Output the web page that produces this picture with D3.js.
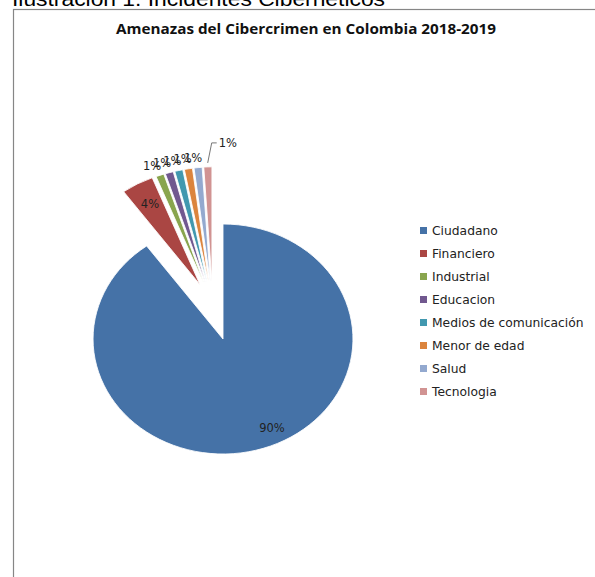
<!DOCTYPE html>
<html>
<head>
<meta charset="utf-8">
<script src="https://cdn.jsdelivr.net/npm/d3@7"></script>
<style>
  body { margin: 0; background: #fff; }
  svg { display: block; }
</style>
</head>
<body>
<div id="chart"></div>
<script>
// datos
const categorias = ['Ciudadano', 'Financiero', 'Industrial', 'Educacion', 'Medios de comunicación', 'Menor de edad', 'Salud', 'Tecnologia'];
const valores = [90, 4, 1, 1, 1, 1, 1, 1];
const colores = ['#4572A7', '#AA4643', '#89A54E', '#71588F', '#4198AF', '#DB843D', '#93A9CF', '#D19392'];
const titulo = 'Amenazas del Cibercrimen en Colombia 2018-2019';

const W = 595, H = 577;
const cx = 223, cy = 339, r = 115, sx = 1.13, explode = 58;
const toRad = Math.PI / 180;

const svg = d3.select('#chart').append('svg')
    .attr('width', W)
    .attr('height', H);

// caption cortado arriba
svg.append('text')
    .attr('x', 12).attr('y', 6)
    .attr('font-family', 'Liberation Sans, Arial, sans-serif')
    .attr('font-size', 20)
    .attr('fill', '#000')
    .attr('textLength', 373)
    .attr('lengthAdjust', 'spacingAndGlyphs')
    .text('Ilustración 1. Incidentes Cibernéticos');

svg.append('rect')
    .attr('x', 13.5).attr('y', 9.5)
    .attr('width', W + 10).attr('height', H)
    .attr('fill', '#fff')
    .attr('stroke', '#868686')
    .attr('stroke-width', 1.2);

svg.append('text')
    .attr('x', 306).attr('y', 34)
    .attr('text-anchor', 'middle')
    .attr('font-family', 'Open Sans, Liberation Sans, sans-serif')
    .attr('font-weight', 'bold')
    .attr('font-size', 13.5)
    .attr('fill', '#111')
    .attr('textLength', 380)
    .attr('lengthAdjust', 'spacingAndGlyphs')
    .text(titulo);

const data = categorias.map((c, i) => ({ name: c, value: valores[i], color: colores[i] }));

const pie = d3.pie().sort(null).value(d => d.value);
const arcs = pie(data);
const arc = d3.arc().innerRadius(0).outerRadius(r);

const mid = d => (d.startAngle + d.endAngle) / 2;

// desplazamiento de las porciones separadas (se abren en abanico hacia arriba-izquierda)
function offset(d, i) {
    if (i === 0) return [0, 0];
    const a = 345 * toRad + (mid(d) - 345 * toRad) * 0.4;
    return [Math.sin(a) * explode, -Math.cos(a) * explode];
}

const g = svg.append('g')
    .attr('transform', `translate(${cx},${cy}) scale(${sx},1)`);

g.selectAll('path')
    .data(arcs)
    .enter()
    .append('path')
    .attr('transform', (d, i) => 'translate(' + offset(d, i) + ')')
    .attr('d', arc)
    .attr('fill', d => d.data.color)
    .attr('stroke', '#fff')
    .attr('stroke-width', 0.8);

// etiquetas
function pt(d, i, rad, shift) {
    const a = mid(d) + (shift || 0) * toRad;
    const o = offset(d, i);
    return [cx + (o[0] + Math.sin(a) * rad) * sx, cy + o[1] - Math.cos(a) * rad];
}

const lbl = svg.append('g')
    .attr('font-family', 'DejaVu Sans, Verdana, sans-serif')
    .attr('font-size', 11.5)
    .attr('fill', '#222');

arcs.forEach((d, i) => {
    const txt = Math.round(d.data.value) + '%';
    let p;
    if (i === 0) {
        p = pt(d, i, r * 0.86, -8);
    } else if (i === 1) {
        p = pt(d, i, r * 0.8);
    } else if (i === arcs.length - 1) {
        const p0 = pt(d, i, r + 4);
        const p1 = [p0[0] + 4, p0[1] - 20];
        lbl.append('path')
            .attr('d', d3.line()([p0, p1, [p1[0] + 5, p1[1]]]))
            .attr('fill', 'none')
            .attr('stroke', '#777')
            .attr('stroke-width', 1);
        lbl.append('text').attr('x', p1[0] + 7).attr('y', p1[1] + 4).text(txt);
        return;
    } else {
        p = pt(d, i, r + 10);
        p[0] -= 4;
    }
    lbl.append('text').attr('x', p[0]).attr('y', p[1] + 4).attr('text-anchor', 'middle').text(txt);
});

// leyenda
const legend = svg.append('g')
    .attr('transform', 'translate(420,231)')
    .attr('font-family', 'DejaVu Sans, Verdana, sans-serif')
    .attr('font-size', 12.3)
    .attr('fill', '#222');

const item = legend.selectAll('g')
    .data(data)
    .enter()
    .append('g')
    .attr('transform', (d, i) => `translate(0,${i * 23})`);

item.append('rect')
    .attr('x', 0).attr('y', -4)
    .attr('width', 7).attr('height', 7)
    .attr('fill', d => d.color);

item.append('text')
    .attr('x', 12).attr('y', 4)
    .text(d => d.name);
</script>
</body>
</html>
